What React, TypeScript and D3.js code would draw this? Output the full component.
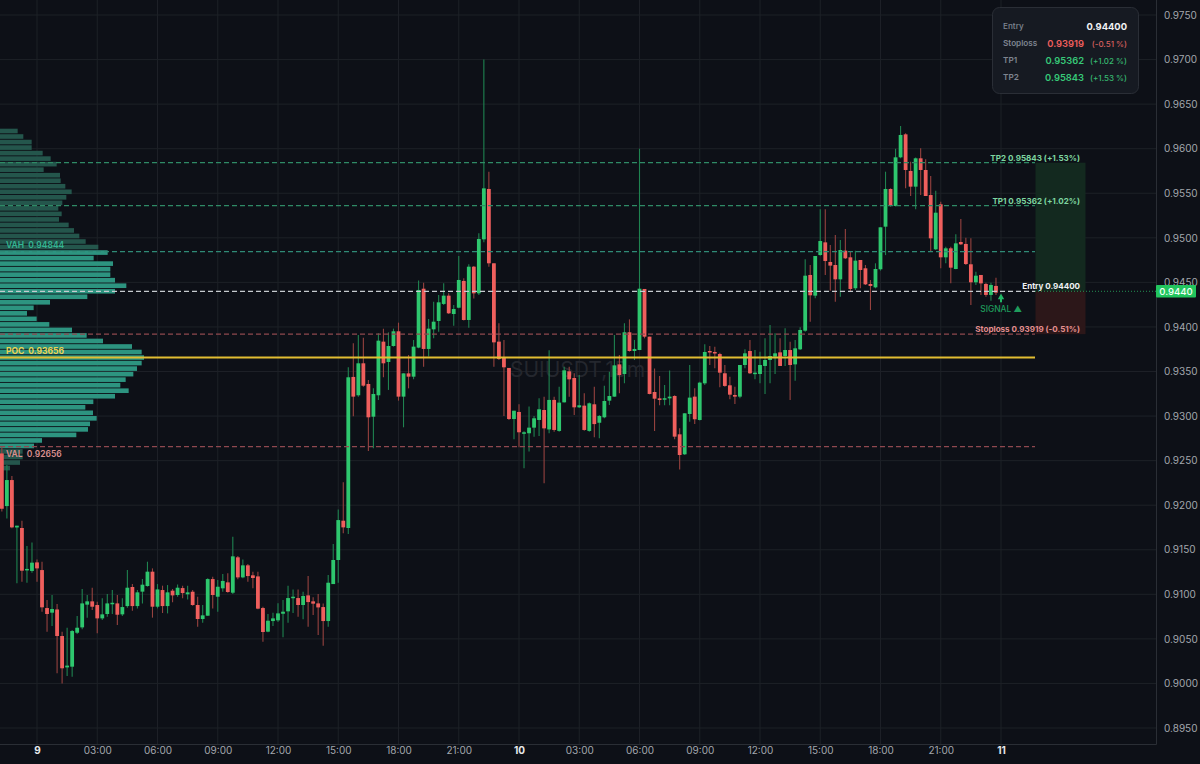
import { useEffect, useRef } from "react";
import * as d3 from "d3";

// [open, high, low, close], 15 minute candles
const LATE_DAY_8 = [
  [0.92581, 0.9265, 0.9193, 0.9196], [0.9199, 0.9245, 0.91852, 0.92282], [0.92282, 0.92327, 0.9174, 0.91751],
  [0.9175, 0.9177, 0.91123, 0.9177], [0.91744, 0.91826, 0.91142, 0.91265], [0.91277, 0.91542, 0.91131, 0.91285],
  [0.91262, 0.9158, 0.91242, 0.91355],
];

const DAY_9 = [
  [0.91358, 0.91392, 0.91142, 0.91291], [0.91272, 0.91366, 0.90805, 0.90854], [0.90846, 0.90936, 0.90581, 0.90779],
  [0.90794, 0.90992, 0.90644, 0.90835], [0.9083, 0.9089, 0.90113, 0.90532], [0.90532, 0.9058, 0.9, 0.9017],
  [0.9018, 0.90625, 0.90083, 0.902], [0.90188, 0.906, 0.90076, 0.90588], [0.90569, 0.90756, 0.90554, 0.90625],
  [0.90629, 0.91059, 0.90607, 0.90898], [0.90884, 0.90992, 0.90738, 0.90921], [0.90921, 0.91074, 0.90824, 0.90861],
  [0.9088, 0.90917, 0.90562, 0.9073], [0.9073, 0.90955, 0.90712, 0.90775], [0.90779, 0.91003, 0.90749, 0.90898],
  [0.90897, 0.91048, 0.90779, 0.90905], [0.90898, 0.90992, 0.90655, 0.90771], [0.90775, 0.90955, 0.90756, 0.90857],
  [0.90868, 0.91272, 0.9085, 0.91074], [0.91082, 0.91115, 0.90816, 0.90868], [0.90868, 0.91048, 0.90842, 0.91022],
  [0.9103, 0.91171, 0.90898, 0.91108], [0.91093, 0.91366, 0.91086, 0.91254], [0.91254, 0.91291, 0.90738, 0.90861],
  [0.90861, 0.91115, 0.90842, 0.91055], [0.91048, 0.91097, 0.9079, 0.90868], [0.90868, 0.91104, 0.90786, 0.91022],
  [0.91041, 0.91059, 0.9091, 0.90988], [0.90992, 0.91111, 0.90973, 0.91074], [0.9107, 0.91097, 0.90955, 0.91014],
  [0.91, 0.91097, 0.90943, 0.91022], [0.91029, 0.91048, 0.90872, 0.9088], [0.9088, 0.90973, 0.90637, 0.90723],
  [0.90723, 0.9088, 0.90681, 0.90764], [0.9076, 0.91179, 0.9076, 0.91171], [0.91171, 0.91198, 0.90842, 0.90992],
  [0.90973, 0.9116, 0.90805, 0.91085], [0.91067, 0.91228, 0.9103, 0.9115], [0.91134, 0.91235, 0.91018, 0.91026],
  [0.91018, 0.91646, 0.91003, 0.91426], [0.91415, 0.9143, 0.91168, 0.9119], [0.9119, 0.91392, 0.91179, 0.91325],
  [0.91325, 0.9134, 0.91142, 0.91205], [0.91213, 0.91254, 0.91067, 0.91183], [0.91201, 0.91254, 0.90831, 0.90839],
  [0.90846, 0.90861, 0.90468, 0.90577], [0.90581, 0.90779, 0.90573, 0.90704], [0.907, 0.90794, 0.90644, 0.9073],
  [0.90708, 0.909, 0.9069, 0.90786], [0.90782, 0.90936, 0.90517, 0.90805], [0.90809, 0.91097, 0.90681, 0.90958],
  [0.90962, 0.91055, 0.9079, 0.90973], [0.90958, 0.91055, 0.90749, 0.9088], [0.9088, 0.91029, 0.90719, 0.90981],
  [0.90988, 0.91205, 0.90637, 0.90913], [0.90921, 0.90966, 0.90767, 0.90895], [0.90898, 0.91003, 0.90543, 0.90853],
  [0.90857, 0.90898, 0.90423, 0.907], [0.907, 0.91216, 0.90637, 0.9113], [0.91115, 0.91564, 0.91115, 0.91385],
  [0.91385, 0.91953, 0.91131, 0.91833], [0.91826, 0.92256, 0.91684, 0.91751], [0.91744, 0.93547, 0.91677, 0.93435],
  [0.93439, 0.93816, 0.92999, 0.93218], [0.93233, 0.9391, 0.93218, 0.93592], [0.93592, 0.9388, 0.9333, 0.93341],
  [0.9336, 0.93405, 0.92608, 0.92986], [0.92993, 0.93311, 0.92638, 0.93248], [0.93233, 0.93928, 0.93181, 0.93846],
  [0.93835, 0.93981, 0.93435, 0.93592], [0.93607, 0.93939, 0.93293, 0.93786], [0.93786, 0.93981, 0.93779, 0.93951],
  [0.93951, 0.94048, 0.93173, 0.93218], [0.93218, 0.93479, 0.92874, 0.93479], [0.93479, 0.93685, 0.93311, 0.93442],
  [0.93442, 0.93854, 0.93412, 0.93779], [0.93768, 0.9452, 0.9376, 0.94415], [0.94429, 0.94497, 0.93554, 0.93753],
  [0.93753, 0.94089, 0.93667, 0.93981], [0.93973, 0.94284, 0.93872, 0.94059], [0.94067, 0.94358, 0.93947, 0.94276],
  [0.94258, 0.94489, 0.94246, 0.94351], [0.94351, 0.94377, 0.94145, 0.94153], [0.94145, 0.94246, 0.94014, 0.94201],
  [0.94216, 0.94796, 0.94209, 0.94527], [0.94516, 0.94545, 0.94071, 0.94078], [0.94078, 0.94703, 0.93992, 0.94676],
  [0.94676, 0.94684, 0.9432, 0.94377], [0.94377, 0.9505, 0.94358, 0.94987], [0.94983, 0.97, 0.9495, 0.95555],
  [0.95548, 0.95742, 0.94676, 0.94714], [0.94714, 0.94714, 0.93554, 0.93827], [0.93835, 0.94041, 0.93629, 0.9364],
  [0.93655, 0.93854, 0.93, 0.93547], [0.9354, 0.9354, 0.92956, 0.92967], [0.92967, 0.9306, 0.92739, 0.9306],
];

const DAY_10 = [
  [0.93046, 0.93132, 0.92649, 0.92818], [0.92807, 0.9283, 0.92414, 0.92818], [0.92807, 0.93106, 0.92601, 0.9287],
  [0.9287, 0.93001, 0.92769, 0.92975], [0.92956, 0.93199, 0.92776, 0.93076], [0.93068, 0.93218, 0.92245, 0.92862],
  [0.9285, 0.93738, 0.92806, 0.93181], [0.93181, 0.93218, 0.92825, 0.92844], [0.92833, 0.9333, 0.92825, 0.93151],
  [0.93154, 0.93554, 0.93151, 0.93513], [0.93502, 0.93554, 0.93218, 0.93412], [0.93427, 0.93479, 0.93012, 0.93098],
  [0.93098, 0.93461, 0.9309, 0.93121], [0.93117, 0.93255, 0.92836, 0.92844], [0.92833, 0.93151, 0.92825, 0.93143],
  [0.93132, 0.9333, 0.92761, 0.9291], [0.92925, 0.93012, 0.9275, 0.93001], [0.92986, 0.93341, 0.92975, 0.93169],
  [0.93173, 0.93498, 0.93124, 0.93225], [0.93218, 0.9391, 0.93218, 0.93569], [0.9358, 0.93685, 0.93255, 0.9346],
  [0.93472, 0.94041, 0.93367, 0.9394], [0.9394, 0.94085, 0.93723, 0.9373], [0.9373, 0.93854, 0.93629, 0.93753],
  [0.93741, 0.96, 0.93741, 0.94429], [0.94426, 0.94426, 0.93872, 0.93891], [0.93891, 0.93891, 0.93244, 0.93248],
  [0.9327, 0.93535, 0.92833, 0.93195], [0.93199, 0.9345, 0.9312, 0.9318], [0.93185, 0.93349, 0.9312, 0.932],
  [0.93199, 0.9351, 0.9312, 0.93218], [0.93225, 0.93233, 0.92739, 0.92769], [0.92795, 0.92862, 0.924, 0.92563],
  [0.92571, 0.93031, 0.92563, 0.93031], [0.93023, 0.93573, 0.92937, 0.93207], [0.93218, 0.93311, 0.92911, 0.92964],
  [0.92956, 0.93386, 0.92949, 0.93375], [0.93367, 0.93805, 0.93349, 0.93719], [0.9373, 0.93786, 0.93573, 0.93715],
  [0.93719, 0.93778, 0.93536, 0.93704], [0.93696, 0.93711, 0.93322, 0.93487], [0.9348, 0.93573, 0.9333, 0.93338],
  [0.93345, 0.93442, 0.93188, 0.9324], [0.93236, 0.9333, 0.93135, 0.93218], [0.93218, 0.93573, 0.93199, 0.93573],
  [0.93573, 0.93749, 0.93536, 0.93704], [0.9373, 0.93854, 0.93472, 0.9348], [0.93472, 0.93741, 0.93412, 0.93487],
  [0.93472, 0.93723, 0.93367, 0.93573], [0.93562, 0.93872, 0.93248, 0.93629], [0.93629, 0.94022, 0.93367, 0.93674],
  [0.93666, 0.93928, 0.93472, 0.93704], [0.93715, 0.93872, 0.93562, 0.93562], [0.93674, 0.93984, 0.93562, 0.93741],
  [0.93741, 0.93835, 0.9318, 0.93573], [0.9358, 0.93854, 0.93397, 0.9376], [0.93749, 0.93996, 0.93741, 0.93966],
  [0.93958, 0.94759, 0.93947, 0.94575], [0.94583, 0.94695, 0.94059, 0.94355], [0.94351, 0.94796, 0.94321, 0.94796],
  [0.94807, 0.9532, 0.948, 0.94964], [0.94949, 0.9532, 0.94583, 0.9474], [0.94729, 0.9492, 0.94407, 0.94688],
  [0.94695, 0.95032, 0.94284, 0.94534], [0.94534, 0.94976, 0.9434, 0.94863], [0.94856, 0.95099, 0.94762, 0.9477],
  [0.94781, 0.94845, 0.94396, 0.94426], [0.94434, 0.94856, 0.94415, 0.94744], [0.94751, 0.94751, 0.94433, 0.94639],
  [0.94658, 0.94695, 0.94471, 0.94478], [0.94482, 0.94527, 0.9419, 0.9446], [0.94444, 0.94714, 0.94433, 0.9465],
  [0.94647, 0.95118, 0.94632, 0.95118], [0.95125, 0.95742, 0.94806, 0.95548], [0.95548, 0.95555, 0.9535, 0.95357],
  [0.95357, 0.96, 0.9535, 0.95903], [0.95903, 0.96255, 0.95892, 0.96154], [0.96161, 0.96172, 0.95555, 0.95761],
  [0.9575, 0.95854, 0.95469, 0.95574], [0.95574, 0.959, 0.9532, 0.95892], [0.95892, 0.96004, 0.9548, 0.95761],
  [0.95761, 0.95881, 0.95469, 0.95469], [0.9548, 0.95694, 0.94845, 0.94994], [0.94871, 0.95529, 0.94863, 0.95282],
  [0.95376, 0.95406, 0.94658, 0.94781], [0.94781, 0.949, 0.94714, 0.94882], [0.94882, 0.949, 0.94489, 0.94665],
  [0.9465, 0.95039, 0.94647, 0.94938], [0.94953, 0.95211, 0.94919, 0.94927], [0.94931, 0.95, 0.94695, 0.94706],
  [0.94703, 0.94994, 0.94246, 0.94501], [0.94501, 0.9462, 0.94471, 0.94575], [0.94583, 0.94583, 0.94359, 0.94489],
  [0.94482, 0.94497, 0.9434, 0.94359], [0.94359, 0.94497, 0.94295, 0.94471], [0.9446, 0.94553, 0.94359, 0.94385],
];

// volume profile rows, top of the range first, arbitrary units
const PROFILE_VOLUME = [
  53, 70, 95, 95, 128, 152, 170, 131, 180, 182, 196, 215, 199, 187, 175, 185, 177, 206, 222, 238, 257, 295,
  323, 281, 339, 331, 331, 345, 379, 345, 262, 150, 101, 81, 110, 148, 216, 260, 309, 396, 425, 432, 425,
  411, 400, 377, 361, 386, 345, 280, 256, 279, 290, 270, 264, 229, 126, 102, 68, 68, 60, 30,
];
const PROFILE_BIN = 0.00062;

const ENTRY = 0.944;
const STOPLOSS = 0.93919;
const TP1 = 0.95362;
const TP2 = 0.95843;
const VAH = 0.94844;
const POC = 0.93656;
const VAL = 0.92656;
const LAST_PRICE = 0.944;
const SL_PCT = "-0.51";
const TP1_PCT = "+1.02";
const TP2_PCT = "+1.53";

const BG = "#0d1017";
const GRID = "#1d2027";
const UP = "#2ec76e";
const DOWN = "#ef5f5d";
const UP_WICK = "#1f8350";
const DOWN_WICK = "#96423f";
const FONT = "Inter, 'Noto Sans', sans-serif";

export default function App() {
  const svgRef = useRef<SVGSVGElement>(null);

  useEffect(() => {
    document.body.style.margin = "0";
    document.body.style.background = BG;
    const W = 1200, H = 764;
    const svg = d3.select(svgRef.current).attr("width", W).attr("height", H);
    svg.selectAll("*").remove();
    svg.append("rect").attr("width", W).attr("height", H).attr("fill", BG);

    const t0 = new Date(Date.UTC(2025, 0, 9));
    const t1 = new Date(Date.UTC(2025, 0, 11));
    const AXIS_X = 1156;
    const AXIS_Y = 744;
    const LEVEL_END = 1035;
    const x = d3.scaleUtc().domain([t0, t1]).range([37, 1001]);
    const y = d3.scaleLinear().domain([0.975, 0.895]).range([15, 728]);
    const rows = [...LATE_DAY_8, ...DAY_9, ...DAY_10];
    const timeAt = (i: number) => new Date(+t0 + (i - LATE_DAY_8.length) * 15 * 60000);

    const xTicks = d3.utcHour.range(t0, new Date(+t1 + 1), 3);
    const yTicks = d3.ticks(0.895, 0.975, 16);

    // grid
    const grid = svg.append("g").attr("stroke", GRID);
    xTicks.forEach(t => grid.append("line").attr("x1", x(t)).attr("x2", x(t)).attr("y1", 0).attr("y2", AXIS_Y));
    yTicks.forEach(v => grid.append("line").attr("x1", 0).attr("x2", AXIS_X).attr("y1", y(v)).attr("y2", y(v)));
    svg.append("path").attr("d", `M0,${AXIS_Y + 0.5}H${AXIS_X + 0.5}V0`).attr("fill", "none").attr("stroke", "#2a2e35");

    // watermark
    svg.append("text").attr("x", 510).attr("y", 377).attr("fill", "#24272e")
      .attr("font-family", FONT).attr("font-size", 21).text("SUIUSDT,15m");

    // volume profile
    const pocIdx = d3.maxIndex(PROFILE_VOLUME);
    const binPrice = (k: number) => POC + (pocIdx - k) * PROFILE_BIN;
    const vS = d3.scaleLinear().domain([0, d3.max(PROFILE_VOLUME) as number]).range([0, 144]);
    const binH = Math.abs(y(0) - y(PROFILE_BIN));
    svg.append("g").selectAll("rect").data(PROFILE_VOLUME).join("rect")
      .attr("x", 0)
      .attr("y", (_, k) => y(binPrice(k)) - binH / 2 + 0.4)
      .attr("width", d => vS(d))
      .attr("height", binH - 0.9)
      .attr("fill", (_, k) => {
        const p = binPrice(k);
        return p <= VAH + PROFILE_BIN / 2 && p >= VAL - PROFILE_BIN / 2 ? "#2d9480" : "#24564c";
      });

    // trade box
    const boxX = LEVEL_END + 0.5, boxW = 50;
    svg.append("rect").attr("x", boxX).attr("width", boxW).attr("y", y(TP2)).attr("height", y(ENTRY) - y(TP2)).attr("fill", "#13291f");
    svg.append("rect").attr("x", boxX).attr("width", boxW).attr("y", y(ENTRY)).attr("height", y(STOPLOSS) - y(ENTRY)).attr("fill", "#2c1719");

    // candles
    const candles = svg.append("g");
    rows.forEach((r, i) => {
      const [o, h, l, c] = r;
      const cx = x(timeAt(i));
      const isUp = c >= o;
      candles.append("line").attr("x1", cx).attr("x2", cx).attr("y1", y(h)).attr("y2", y(l))
        .attr("stroke", isUp ? UP_WICK : DOWN_WICK).attr("stroke-width", 1.1);
      const top = y(Math.max(o, c));
      candles.append("rect").attr("x", cx - 1.9).attr("width", 3.8).attr("y", top)
        .attr("height", Math.max(1.5, y(Math.min(o, c)) - top)).attr("fill", isUp ? UP : DOWN);
    });

    // level lines
    const level = (p: number, stroke: string, dash: string | null, sw: number) => {
      const line = svg.append("line").attr("x1", 0).attr("x2", LEVEL_END).attr("y1", y(p)).attr("y2", y(p))
        .attr("stroke", stroke).attr("stroke-width", sw);
      if (dash) line.attr("stroke-dasharray", dash);
    };
    level(TP2, "#2f8a66", "5 3", 1.2);
    level(TP1, "#2f8a66", "5 3", 1.2);
    level(VAH, "#2f8a76", "5 3", 1.2);
    level(ENTRY, "#c6cbcf", "5 3", 1.2);
    level(STOPLOSS, "#8f484f", "5 3", 1.2);
    level(VAL, "#8f484f", "5 3", 1.2);
    level(POC, "#e2bd32", null, 2);

    // last price dotted line
    svg.append("line").attr("x1", LEVEL_END).attr("x2", AXIS_X).attr("y1", y(LAST_PRICE)).attr("y2", y(LAST_PRICE))
      .attr("stroke", "#2ec76e").attr("stroke-opacity", 0.7).attr("stroke-dasharray", "1 2");

    const label = (t: string, lx: number, ly: number, fill: string, size: number, anchor = "start", weight = 700) =>
      svg.append("text").attr("x", lx).attr("y", ly).attr("fill", fill).attr("font-family", FONT)
        .attr("font-size", size).attr("font-weight", weight).attr("text-anchor", anchor)
        .style("white-space", "pre").text(t);

    // profile labels
    label(`VAH  ${VAH.toFixed(5)}`, 6, y(VAH) - 4, "#34b592", 8.5, "start", 600);
    label(`POC  ${POC.toFixed(5)}`, 6, y(POC) - 4, "#ecd253", 8.5);
    label(`VAL  ${VAL.toFixed(5)}`, 6, y(VAL) + 10, "#d98f8f", 8.5, "start", 600);

    // trade labels
    const labelX = 1080;
    label(`TP2 ${TP2.toFixed(5)} (${TP2_PCT}%)`, labelX, y(TP2) - 1.8, "#7ed6a0", 8.05, "end");
    label(`TP1 ${TP1.toFixed(5)} (${TP1_PCT}%)`, labelX, y(TP1) - 1.8, "#7ed6a0", 8.05, "end");
    label(`Entry ${ENTRY.toFixed(5)}`, labelX, y(ENTRY) - 2.2, "#f0f2f3", 8.05, "end");
    label(`Stoploss ${STOPLOSS.toFixed(5)} (${SL_PCT}%)`, labelX, y(STOPLOSS) - 2.2, "#e48f8f", 8.05, "end");

    // signal marker
    const sigX = x(t1), sigY = y(ENTRY) + 6;
    svg.append("path").attr("transform", `translate(${sigX},${sigY})`)
      .attr("d", d3.symbol(d3.symbolTriangle, 18)()).attr("fill", "#22b866");
    svg.append("rect").attr("x", sigX - 1).attr("y", sigY + 1).attr("width", 2).attr("height", 4).attr("fill", "#22b866");
    label("SIGNAL ▲", sigX + 21, y(ENTRY) + 21, "#1f9c5c", 8.4, "end", 500);

    // y axis
    svg.append("g").attr("transform", `translate(1164,0)`)
      .call(d3.axisRight(y).tickValues(yTicks).tickFormat(v => (+v).toFixed(4)).tickSize(0).tickPadding(0))
      .call(g => {
        g.select(".domain").remove();
        g.selectAll("text").attr("fill", "#a3a7ad").attr("font-family", FONT).attr("font-size", 10);
      });

    // x axis
    svg.append("g").attr("transform", `translate(0,747)`)
      .call(d3.axisBottom(x).tickValues(xTicks).tickSize(0).tickPadding(0)
        .tickFormat(v => {
          const d = v as Date;
          return d.getUTCHours() === 0 ? String(d.getUTCDate()) : d3.utcFormat("%H:%M")(d);
        }))
      .call(g => {
        g.select(".domain").remove();
        g.selectAll("text").attr("font-family", FONT).attr("font-size", 10)
          .attr("fill", (v: any) => (v.getUTCHours() === 0 ? "#e6e8ea" : "#a3a7ad"))
          .attr("font-weight", (v: any) => (v.getUTCHours() === 0 ? 700 : 400));
      });

    // price tag
    svg.append("rect").attr("x", AXIS_X).attr("y", y(LAST_PRICE) - 6.2).attr("width", 40).attr("height", 12.4)
      .attr("rx", 1).attr("fill", "#22c55e");
    label(LAST_PRICE.toFixed(4), 1176, y(LAST_PRICE) + 3.6, "#f4fff8", 9.6, "middle", 500);

    // info panel
    svg.append("rect").attr("x", 992.5).attr("y", 7.5).attr("width", 146).attr("height", 86).attr("rx", 7)
      .attr("fill", "#161a22").attr("stroke", "#2a2e36");
    const lx = 1003, vx = 1084, rx = 1127;
    label("Entry", lx, 29, "#7e8590", 8.2, "start", 500);
    label(ENTRY.toFixed(5), rx, 30, "#f2f3f5", 9.4, "end");
    label("Stoploss", lx, 46, "#7e8590", 8.2, "start", 600);
    label(STOPLOSS.toFixed(5), vx, 47, DOWN, 9.4, "end", 600);
    label(`(${SL_PCT} %)`, rx, 47, "#d8605e", 8, "end", 500);
    label("TP1", lx, 63, "#7e8590", 8.2, "start", 600);
    label(TP1.toFixed(5), vx, 64, "#37c878", 9.4, "end", 600);
    label(`(${TP1_PCT} %)`, rx, 64, "#37b870", 8, "end", 500);
    label("TP2", lx, 80, "#7e8590", 8.2, "start", 600);
    label(TP2.toFixed(5), vx, 81, "#37c878", 9.4, "end", 600);
    label(`(${TP2_PCT} %)`, rx, 81, "#37b870", 8, "end", 500);
  }, []);

  return <svg ref={svgRef} style={{ display: "block" }} />;
}
